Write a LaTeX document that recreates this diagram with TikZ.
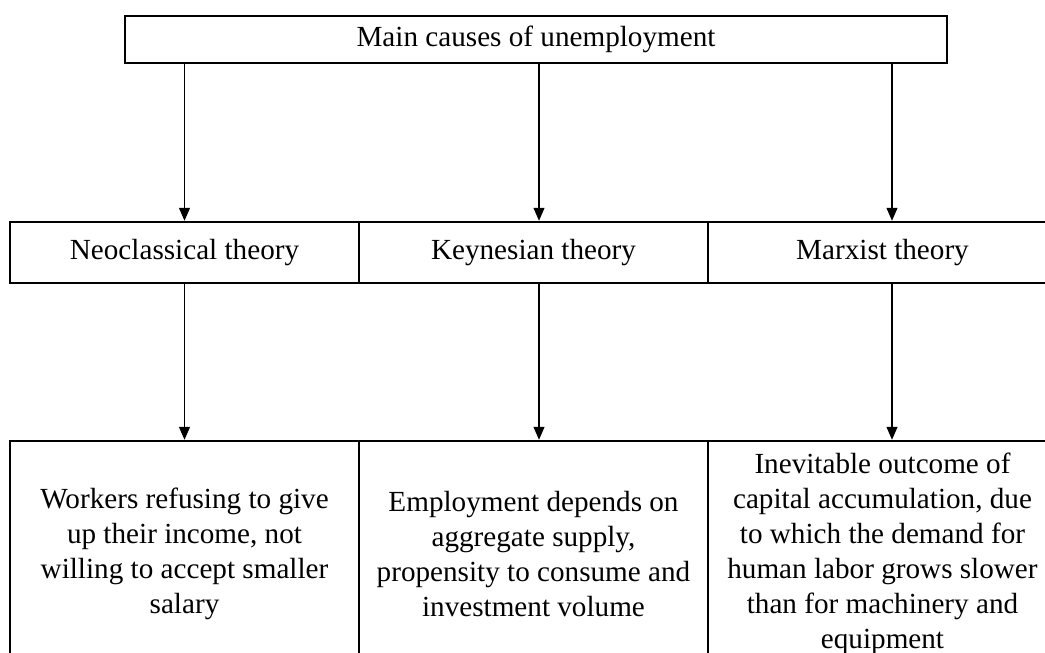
\documentclass[tikz,border=0pt]{standalone}
\usepackage{fontspec}
\setmainfont{Liberation Serif}
\usetikzlibrary{arrows.meta}

\begin{document}
\begin{tikzpicture}[>={Triangle[length=0.26cm,width=0.22cm]},
  font=\fontsize{16.6}{19.9}\selectfont,
  box/.style={draw,rectangle,line width=1.4pt,align=center,inner sep=2pt},
  link/.style={->,line width=0.7pt}]
\clip (0,0) rectangle (20.9,-13.06);

\node[box,minimum width=16.44cm,minimum height=0.94cm] (main) at (10.72,-0.79) {Main causes of unemployment};

\node[box,minimum width=6.98cm,minimum height=1.22cm] (neo) at (3.69,-5.05) {Neoclassical theory};
\node[box,minimum width=6.98cm,minimum height=1.22cm] (key) at (10.67,-5.05) {Keynesian theory};
\node[box,minimum width=6.98cm,minimum height=1.22cm] (mrx) at (17.65,-5.05) {Marxist theory};

\node[box,minimum width=6.98cm,minimum height=4.52cm] (neores) at (3.69,-11.08) {Workers refusing to give\\up their income, not\\willing to accept smaller\\salary};
\node[box,minimum width=6.98cm,minimum height=4.52cm] (keyres) at (10.67,-11.08) {Employment depends on\\aggregate supply,\\propensity to consume and\\investment volume};
\node[box,minimum width=6.98cm,minimum height=4.52cm] (mrxres) at (17.65,-11.08) {Inevitable outcome of\\capital accumulation, due\\to which the demand for\\human labor grows slower\\than for machinery and\\equipment};

\draw[link] (main.south -| neo.north) -- (neo.north);
\draw[link] ([xshift=0.11cm]main.south -| key.north) -- ([xshift=0.11cm]key.north);
\draw[link] ([xshift=0.19cm]main.south -| mrx.north) -- ([xshift=0.19cm]mrx.north);
\draw[link] (neo) -- (neores);
\draw[link] ([xshift=0.11cm]key.south) -- ([xshift=0.11cm]keyres.north);
\draw[link] ([xshift=0.19cm]mrx.south) -- ([xshift=0.19cm]mrxres.north);
\end{tikzpicture}
\end{document}
